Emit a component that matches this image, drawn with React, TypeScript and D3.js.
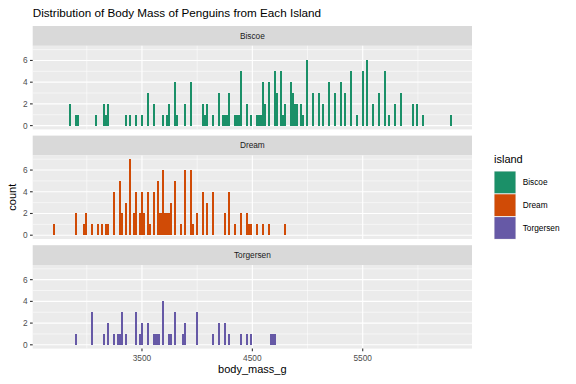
import React from "react";
import * as d3 from "d3";

const islands = ["Biscoe", "Dream", "Torgersen"];
const colors = ["#1B9068", "#D04B06", "#6659A6"];

const biscoeMass = [2848, 2895, 2911, 3074, 3147, 3174, 3196, 3346, 3396, 3446, 3500, 3550, 3600, 3699, 3724, 3749, 3799, 3822, 3899, 3949, 4048, 4071, 4098, 4143, 4198, 4243, 4261, 4279, 4297, 4343, 4361, 4379, 4397, 4447, 4497, 4542, 4560, 4578, 4597, 4615, 4651, 4701, 4723, 4755, 4775, 4800, 4850, 4873, 4896, 4910, 4950, 4965, 5000, 5050, 5100, 5149, 5199, 5249, 5299, 5349, 5398, 5448, 5498, 5548, 5598, 5648, 5698, 5747, 5802, 5852, 5951, 6001, 6051, 6300];
const biscoeCount = [2, 1, 1, 1, 2, 1, 2, 1, 1, 1, 1, 3, 2, 1, 1, 2, 4, 1, 2, 4, 2, 1, 2, 1, 3, 1, 1, 1, 3, 1, 1, 1, 5, 2, 1, 1, 1, 1, 4, 2, 4, 5, 3, 5, 1, 2, 4, 3, 2, 2, 2, 1, 6, 3, 3, 2, 4, 3, 4, 3, 5, 1, 5, 6, 2, 3, 5, 1, 2, 3, 2, 2, 1, 1];

const dreamMass = [2698, 2897, 2974, 2997, 3047, 3097, 3142, 3174, 3196, 3246, 3296, 3323, 3346, 3396, 3423, 3446, 3473, 3500, 3523, 3545, 3572, 3600, 3645, 3663, 3681, 3699, 3717, 3736, 3754, 3772, 3799, 3849, 3899, 3949, 3971, 3998, 4048, 4098, 4148, 4248, 4297, 4347, 4397, 4447, 4471, 4494, 4547, 4596, 4651, 4800];
const dreamCount = [1, 2, 1, 2, 1, 1, 1, 1, 1, 4, 5, 2, 3, 7, 2, 4, 2, 4, 2, 4, 1, 4, 5, 2, 2, 6, 2, 2, 2, 3, 5, 1, 6, 6, 1, 2, 4, 3, 4, 2, 4, 1, 2, 2, 1, 1, 1, 1, 1, 1];

const torgersenMass = [2897, 3047, 3147, 3196, 3246, 3278, 3300, 3323, 3346, 3446, 3473, 3500, 3550, 3600, 3618, 3636, 3654, 3699, 3747, 3770, 3795, 3872, 3899, 3998, 4148, 4198, 4248, 4297, 4397, 4447, 4497, 4669, 4687, 4705];
const torgersenCount = [1, 3, 1, 2, 1, 1, 1, 3, 1, 3, 1, 2, 2, 1, 1, 1, 1, 4, 1, 1, 3, 1, 2, 3, 1, 2, 2, 1, 1, 1, 1, 1, 1, 1];

const xMajor = [3500, 4500, 5500];
const xMinor = [3000, 4000, 5000, 6000];
const yMajor = [0, 2, 4, 6];
const yMinor = [1, 3, 5, 7];

const massLists = [biscoeMass, dreamMass, torgersenMass];
const countLists = [biscoeCount, dreamCount, torgersenCount];

const W = 576;
const H = 384;
const font = "'Liberation Sans', Arial, Helvetica, sans-serif";

// 200 bins across the 2700..6300 g range
const nBins = 200;
const binW = (6300 - 2700) / (nBins - 1);
const binLo = 2700 - binW / 2;

const panelLeft = 32.7;
const panelRight = 472;
const stripTop0 = 26;
const stripH = 19.8;
const panelH = 83.6;
const facetStep = 109.6;

const x = d3.scaleLinear().domain([2510, 6490]).range([panelLeft, panelRight]);

function binned(masses: number[], counts: number[]) {
  const m = d3.rollup(
    d3.range(masses.length),
    (v) => d3.sum(v, (i) => counts[i]),
    (i) => Math.floor((masses[i] - binLo) / binW)
  );
  return Array.from(m, ([k, c]) => ({ x0: binLo + k * binW, x1: binLo + (k + 1) * binW, count: c }));
}

function Facet({ idx }: { idx: number }) {
  const sTop = stripTop0 + idx * facetStep;
  const pTop = sTop + stripH;
  const pBot = pTop + panelH;
  const y = d3.scaleLinear().domain([-0.35, 7.35]).range([pBot, pTop]);
  const bars = binned(massLists[idx], countLists[idx]);
  return (
    <g>
      <rect x={panelLeft} y={sTop} width={panelRight - panelLeft} height={stripH} fill="#D9D9D9" />
      <text x={(panelLeft + panelRight) / 2} y={sTop + stripH / 2} dy="0.35em" textAnchor="middle" fontSize={8.3} fill="#1A1A1A">
        {islands[idx]}
      </text>
      <rect x={panelLeft} y={pTop} width={panelRight - panelLeft} height={panelH} fill="#EBEBEB" />
      {yMinor.map((v) => (
        <line key={"ym" + v} x1={panelLeft} x2={panelRight} y1={y(v)} y2={y(v)} stroke="#fff" strokeWidth={0.55} />
      ))}
      {xMinor.map((v) => (
        <line key={"xm" + v} x1={x(v)} x2={x(v)} y1={pTop} y2={pBot} stroke="#fff" strokeWidth={0.55} />
      ))}
      {yMajor.map((v) => (
        <line key={"yM" + v} x1={panelLeft} x2={panelRight} y1={y(v)} y2={y(v)} stroke="#fff" strokeWidth={1.1} />
      ))}
      {xMajor.map((v) => (
        <line key={"xM" + v} x1={x(v)} x2={x(v)} y1={pTop} y2={pBot} stroke="#fff" strokeWidth={1.1} />
      ))}
      {bars.map((b, i) => (
        <rect
          key={i}
          x={x(b.x0)}
          y={y(b.count)}
          width={x(b.x1) - x(b.x0)}
          height={y(0) - y(b.count)}
          fill={colors[idx]}
          shapeRendering="crispEdges"
        />
      ))}
      {yMajor.map((v) => (
        <g key={"yt" + v}>
          <line x1={panelLeft - 2.7} x2={panelLeft} y1={y(v)} y2={y(v)} stroke="#333" strokeWidth={1.1} />
          <text x={panelLeft - 5} y={y(v)} dy="0.35em" textAnchor="end" fontSize={8.3} fill="#4D4D4D">
            {v}
          </text>
        </g>
      ))}
    </g>
  );
}

export default function App() {
  const bottom = stripTop0 + 2 * facetStep + stripH + panelH;
  const keyTop = 171;
  const keyH = 22.8;
  return (
    <svg width={W} height={H} style={{ position: "absolute", left: 0, top: 0 }} fontFamily={font}>
      <rect width={W} height={H} fill="#fff" />
      <text x={panelLeft} y={17} fontSize={11.7} fill="#000">
        Distribution of Body Mass of Penguins from Each Island
      </text>
      {islands.map((_, i) => (
        <Facet key={i} idx={i} />
      ))}
      {xMajor.map((v) => (
        <g key={"xt" + v}>
          <line x1={x(v)} x2={x(v)} y1={bottom} y2={bottom + 2.7} stroke="#333" strokeWidth={1.1} />
          <text x={x(v)} y={bottom + 12.8} textAnchor="middle" fontSize={8.3} fill="#4D4D4D">
            {v}
          </text>
        </g>
      ))}
      <text x={(panelLeft + panelRight) / 2} y={373} textAnchor="middle" fontSize={11} fill="#000">
        body_mass_g
      </text>
      <text transform={`translate(15.5, ${(stripTop0 + stripH + bottom) / 2}) rotate(-90)`} textAnchor="middle" fontSize={11} fill="#000">
        count
      </text>
      <text x={494} y={163} fontSize={11} fill="#000">
        island
      </text>
      {islands.map((name, i) => (
        <g key={"lg" + name}>
          <rect x={494} y={keyTop + i * keyH} width={22} height={keyH} fill="#EBEBEB" />
          <rect x={494.5} y={keyTop + i * keyH + 0.5} width={21} height={keyH - 1} fill={colors[i]} />
          <text x={522.7} y={keyTop + i * keyH + keyH / 2} dy="0.35em" fontSize={8.3} fill="#000">
            {name}
          </text>
        </g>
      ))}
    </svg>
  );
}
